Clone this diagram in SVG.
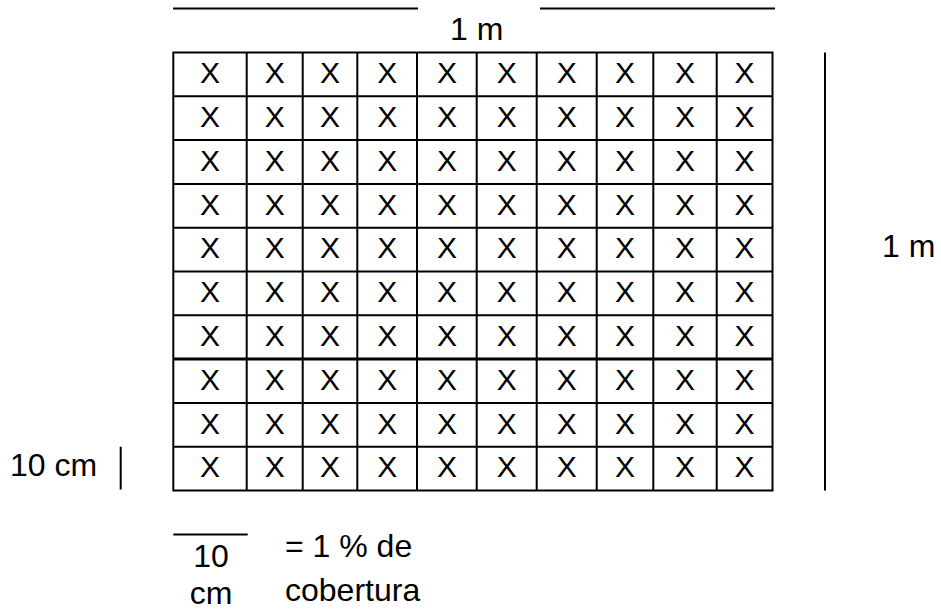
<svg xmlns="http://www.w3.org/2000/svg" width="941" height="611" viewBox="0 0 941 611">
<style>
.ln{stroke:#000;stroke-width:2;fill:none}
.thick{stroke:#000;stroke-width:3;fill:none}
.t{font-family:"Liberation Sans",Arial,sans-serif;font-size:32px;fill:#000}
.x{font-family:"Liberation Sans",Arial,sans-serif;font-size:30px;fill:#000;text-anchor:middle}
</style>
<rect width="941" height="611" fill="#fff"/>
<g id="dimensions">
<line class="ln" x1="173" y1="8.5" x2="418" y2="8.5"/>
<line class="ln" x1="540" y1="8.5" x2="775" y2="8.5"/>
<text class="t" x="450" y="40">1 m</text>
<line class="ln" x1="825" y1="52.5" x2="825" y2="490.5"/>
<text class="t" x="882" y="257">1 m</text>
<text class="t" x="10" y="476">10 cm</text>
<line class="ln" x1="120.7" y1="446.7" x2="120.7" y2="489.5"/>
</g>
<g id="grid">
<rect class="ln" x="173.3" y="52.5" width="599.2" height="438"/>
<path class="ln" d="M246.7 52.5V490.5M302.7 52.5V490.5M357.3 52.5V490.5M417 52.5V490.5M476.7 52.5V490.5M536.7 52.5V490.5M596.7 52.5V490.5M653.3 52.5V490.5M716.7 52.5V490.5"/>
<path class="ln" d="M173.3 96.3H772.5M173.3 140.1H772.5M173.3 183.9H772.5M173.3 227.7H772.5M173.3 271.5H772.5M173.3 315.3H772.5M173.3 402.9H772.5M173.3 446.7H772.5"/>
<path class="thick" d="M173.3 359.1H772.5"/>
</g>
<g id="marks">
<g id="row1"><text class="x" x="210" y="83.2">X</text><text class="x" x="274.7" y="83.2">X</text><text class="x" x="330" y="83.2">X</text><text class="x" x="387.2" y="83.2">X</text><text class="x" x="446.9" y="83.2">X</text><text class="x" x="506.7" y="83.2">X</text><text class="x" x="566.7" y="83.2">X</text><text class="x" x="625" y="83.2">X</text><text class="x" x="685" y="83.2">X</text><text class="x" x="744.6" y="83.2">X</text></g>
<g id="row2"><text class="x" x="210" y="127">X</text><text class="x" x="274.7" y="127">X</text><text class="x" x="330" y="127">X</text><text class="x" x="387.2" y="127">X</text><text class="x" x="446.9" y="127">X</text><text class="x" x="506.7" y="127">X</text><text class="x" x="566.7" y="127">X</text><text class="x" x="625" y="127">X</text><text class="x" x="685" y="127">X</text><text class="x" x="744.6" y="127">X</text></g>
<g id="row3"><text class="x" x="210" y="170.8">X</text><text class="x" x="274.7" y="170.8">X</text><text class="x" x="330" y="170.8">X</text><text class="x" x="387.2" y="170.8">X</text><text class="x" x="446.9" y="170.8">X</text><text class="x" x="506.7" y="170.8">X</text><text class="x" x="566.7" y="170.8">X</text><text class="x" x="625" y="170.8">X</text><text class="x" x="685" y="170.8">X</text><text class="x" x="744.6" y="170.8">X</text></g>
<g id="row4"><text class="x" x="210" y="214.6">X</text><text class="x" x="274.7" y="214.6">X</text><text class="x" x="330" y="214.6">X</text><text class="x" x="387.2" y="214.6">X</text><text class="x" x="446.9" y="214.6">X</text><text class="x" x="506.7" y="214.6">X</text><text class="x" x="566.7" y="214.6">X</text><text class="x" x="625" y="214.6">X</text><text class="x" x="685" y="214.6">X</text><text class="x" x="744.6" y="214.6">X</text></g>
<g id="row5"><text class="x" x="210" y="258.4">X</text><text class="x" x="274.7" y="258.4">X</text><text class="x" x="330" y="258.4">X</text><text class="x" x="387.2" y="258.4">X</text><text class="x" x="446.9" y="258.4">X</text><text class="x" x="506.7" y="258.4">X</text><text class="x" x="566.7" y="258.4">X</text><text class="x" x="625" y="258.4">X</text><text class="x" x="685" y="258.4">X</text><text class="x" x="744.6" y="258.4">X</text></g>
<g id="row6"><text class="x" x="210" y="302.2">X</text><text class="x" x="274.7" y="302.2">X</text><text class="x" x="330" y="302.2">X</text><text class="x" x="387.2" y="302.2">X</text><text class="x" x="446.9" y="302.2">X</text><text class="x" x="506.7" y="302.2">X</text><text class="x" x="566.7" y="302.2">X</text><text class="x" x="625" y="302.2">X</text><text class="x" x="685" y="302.2">X</text><text class="x" x="744.6" y="302.2">X</text></g>
<g id="row7"><text class="x" x="210" y="346">X</text><text class="x" x="274.7" y="346">X</text><text class="x" x="330" y="346">X</text><text class="x" x="387.2" y="346">X</text><text class="x" x="446.9" y="346">X</text><text class="x" x="506.7" y="346">X</text><text class="x" x="566.7" y="346">X</text><text class="x" x="625" y="346">X</text><text class="x" x="685" y="346">X</text><text class="x" x="744.6" y="346">X</text></g>
<g id="row8"><text class="x" x="210" y="389.8">X</text><text class="x" x="274.7" y="389.8">X</text><text class="x" x="330" y="389.8">X</text><text class="x" x="387.2" y="389.8">X</text><text class="x" x="446.9" y="389.8">X</text><text class="x" x="506.7" y="389.8">X</text><text class="x" x="566.7" y="389.8">X</text><text class="x" x="625" y="389.8">X</text><text class="x" x="685" y="389.8">X</text><text class="x" x="744.6" y="389.8">X</text></g>
<g id="row9"><text class="x" x="210" y="433.6">X</text><text class="x" x="274.7" y="433.6">X</text><text class="x" x="330" y="433.6">X</text><text class="x" x="387.2" y="433.6">X</text><text class="x" x="446.9" y="433.6">X</text><text class="x" x="506.7" y="433.6">X</text><text class="x" x="566.7" y="433.6">X</text><text class="x" x="625" y="433.6">X</text><text class="x" x="685" y="433.6">X</text><text class="x" x="744.6" y="433.6">X</text></g>
<g id="row10"><text class="x" x="210" y="477.4">X</text><text class="x" x="274.7" y="477.4">X</text><text class="x" x="330" y="477.4">X</text><text class="x" x="387.2" y="477.4">X</text><text class="x" x="446.9" y="477.4">X</text><text class="x" x="506.7" y="477.4">X</text><text class="x" x="566.7" y="477.4">X</text><text class="x" x="625" y="477.4">X</text><text class="x" x="685" y="477.4">X</text><text class="x" x="744.6" y="477.4">X</text></g>
</g>
<g id="legend">
<line class="ln" x1="173.3" y1="534.5" x2="247.7" y2="534.5"/>
<text class="t" x="211" y="567" text-anchor="middle">10</text>
<text class="t" x="211" y="604" text-anchor="middle">cm</text>
<text class="t" x="285" y="557">= 1 % de</text>
<text class="t" x="285" y="601">cobertura</text>
</g>
</svg>
